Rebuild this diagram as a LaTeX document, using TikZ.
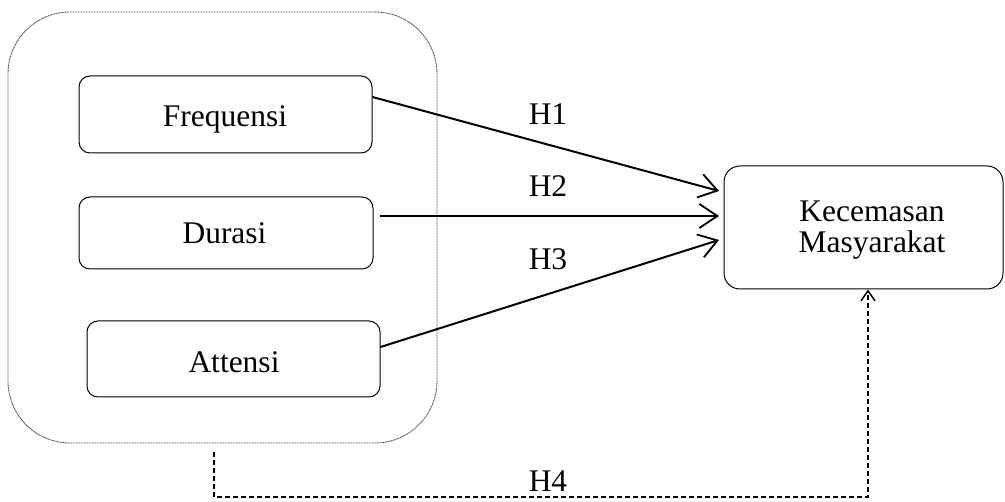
\documentclass[tikz,border=0pt]{standalone}
\usepackage{fontspec}
\setmainfont{Liberation Serif}
\usetikzlibrary{arrows.meta}
\begin{document}
\begin{tikzpicture}[x=1pt,y=-1pt,
  varbox/.style={draw,line width=1pt,rounded corners=11pt},
  txt/.style={anchor=base,inner sep=0pt,font=\fontsize{31.5}{36}\selectfont},
  groupbox/.style={draw=black!70,line width=0.9pt,dash pattern=on 1pt off 0.6pt,rounded corners=62pt},
  hyp/.style={line width=2pt,-{Straight Barb[length=18pt,width=24pt,line width=1.8pt]}}
]
\useasboundingbox (0,0) rectangle (1005,502);
\node[groupbox,minimum width=429pt,minimum height=431pt] (group) at (222.5,227.5) {};
\node[varbox,minimum width=293pt,minimum height=77pt] (freq) at (225.5,114.5) {};
\node[varbox,minimum width=294pt,minimum height=72pt] (dur) at (226,233) {};
\node[varbox,minimum width=293pt,minimum height=76pt] (att) at (233.5,359) {};
\node[varbox,minimum width=279pt,minimum height=123pt,rounded corners=16pt] (kec) at (863.5,227.5) {};
\node[txt] (tfreq) at (225,127) {Frequensi};
\node[txt] (tdur) at (224.5,244) {Durasi};
\node[txt] (tatt) at (234,373) {Attensi};
\node[txt] (tkec1) at (872,222) {Kecemasan};
\node[txt] (tkec2) at (872,253) {Masyarakat};
\coordinate (k1) at (719,191);
\coordinate (k2) at (719,216);
\coordinate (k3) at (719,240);
\draw[hyp] (freq.east |- 0,97) -- (k1);
\draw[hyp] (380,216) -- (k2);
\draw[hyp] (att.east |- 0,347) -- (k3);
\coordinate (g4) at (214,452);
\coordinate (b1) at (214,497);
\coordinate (b2) at (868,497);
\draw[line width=2pt,dash pattern=on 5pt off 3pt,-{Straight Barb[length=10pt,width=14pt,line width=1.5pt]}] (g4) -- (b1) -- (b2) -- (kec.south -| b2);
\node[txt] (h1) at (548,125) {H1};
\node[txt] (h2) at (548,197) {H2};
\node[txt] (h3) at (548,270) {H3};
\node[txt] (h4) at (548,492) {H4};
\end{tikzpicture}
\end{document}
